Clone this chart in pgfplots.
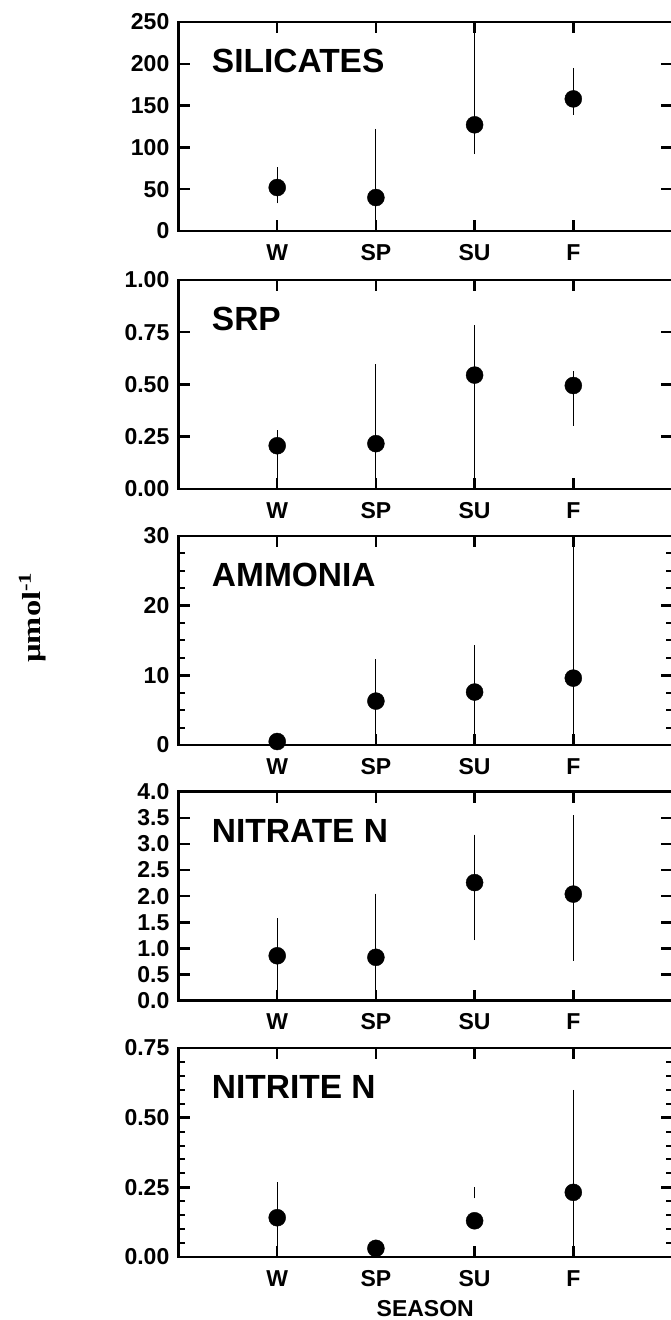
\documentclass[border=0pt]{standalone}
\usepackage{fontspec}
\setmainfont{Liberation Sans}
\newfontfamily\tnr{Liberation Serif}
\usepackage{graphicx}
\usepackage{pgfplots}
\pgfplotsset{compat=1.18}
\usepackage{pgfplotstable}

\pgfplotstableread{
x y ep em
1 52 24 19
2 40 82 40
3 127 130 35
4 158 37 19
}\silicates
\pgfplotstableread{
x y ep em
1 0.207 0.075 0.207
2 0.217 0.379 0.217
3 0.545 0.238 0.545
4 0.495 0.069 0.193
}\srp
\pgfplotstableread{
x y ep em
1 0.5 0 0
2 6.3 6.0 6.3
3 7.6 6.7 7.6
4 9.6 20.4 9.6
}\ammonia
\pgfplotstableread{
x y ep em
1 0.86 0.72 0.86
2 0.83 1.22 0.83
3 2.26 0.92 1.10
4 2.04 1.51 1.28
}\nitrate
\pgfplotstableread{
x y ep em
1 0.141 0.128 0.141
2 0.031 0 0
3 0.130 0 0
4 0.232 0.368 0.232
}\nitrite

\newcommand{\tickfont}{\fontsize{23}{27}\selectfont\bfseries}
\newcommand{\panelfont}{\fontsize{33.5}{40}\selectfont\bfseries}

\pgfplotsset{
  panel/.style={
    scale only axis, width=493.5pt, height=209pt,
    xmin=0, xmax=5, xtick={1,2,3,4}, xticklabels={W,SP,SU,F},
    axis line style={line width=2.5pt},
    major tick length=11pt, minor tick length=6pt,
    major tick style={line width=2.5pt, black},
    minor tick style={line width=2pt, black},
    tick align=inside,
    ticklabel style={font=\tickfont, inner sep=0pt},
    xticklabel style={yshift=-13pt},
    yticklabel style={xshift=-9pt},
    /pgf/number format/assume math mode=true,
    clip=true,
  },
  pts/.style={only marks, mark=*, mark size=8.5pt, draw=black, fill=black,
    mark options={draw=black, fill=black},
    error bars/.cd, y dir=both, y explicit, error mark=none,
    error bar style={line width=1pt, black}},
}

\begin{document}
\begin{tikzpicture}[x=1pt,y=1pt]
% Silicates
\begin{axis}[panel, at={(178.5pt,1089pt)}, anchor=south west,
  ymin=0, ymax=250, ytick={0,50,100,150,200,250}]
\addplot[pts] table[x=x, y=y, y error plus=ep, y error minus=em] {\silicates};
\node[anchor=base west, inner sep=0pt, font=\panelfont] at (rel axis cs:0.0673,0.7584) {SILICATES};
\end{axis}
% SRP
\begin{axis}[panel, at={(178.5pt,831pt)}, anchor=south west,
  ymin=0, ymax=1, ytick={0,0.25,0.5,0.75,1},
  yticklabel style={/pgf/number format/.cd, fixed, fixed zerofill, precision=2}]
\addplot[pts] table[x=x, y=y, y error plus=ep, y error minus=em] {\srp};
\node[anchor=base west, inner sep=0pt, font=\panelfont] at (rel axis cs:0.0673,0.7584) {SRP};
\end{axis}
% Ammonia
\begin{axis}[panel, at={(178.5pt,575pt)}, anchor=south west,
  ymin=0, ymax=30, ytick={0,10,20,30}, minor y tick num=3]
\addplot[pts] table[x=x, y=y, y error plus=ep, y error minus=em] {\ammonia};
\node[anchor=base west, inner sep=0pt, font=\panelfont] at (rel axis cs:0.0673,0.7584) {AMMONIA};
\end{axis}
% Nitrate
\begin{axis}[panel, at={(178.5pt,319.3pt)}, anchor=south west,
  ymin=0, ymax=4, ytick={0,0.5,...,4},
  yticklabel style={/pgf/number format/.cd, fixed, fixed zerofill, precision=1}]
\addplot[pts] table[x=x, y=y, y error plus=ep, y error minus=em] {\nitrate};
\node[anchor=base west, inner sep=0pt, font=\panelfont] at (rel axis cs:0.0673,0.7584) {NITRATE N};
\end{axis}
% Nitrite
\begin{axis}[panel, at={(178.5pt,63pt)}, anchor=south west,
  ymin=0, ymax=0.75, ytick={0,0.25,0.5,0.75}, minor y tick num=4,
  yticklabel style={/pgf/number format/.cd, fixed, fixed zerofill, precision=2},
  xlabel={SEASON},
  xlabel style={font=\tickfont, inner sep=0pt, at={(axis description cs:0.5,0)}, anchor=north, yshift=-43pt}]
\addplot[line width=1pt, black] coordinates {(3,0.21) (3,0.25)};
\addplot[pts] table[x=x, y=y, y error plus=ep, y error minus=em] {\nitrite};
\node[anchor=base west, inner sep=0pt, font=\panelfont] at (rel axis cs:0.0673,0.7584) {NITRITE N};
\end{axis}
% y label
\node[rotate=90, anchor=base west, inner sep=0pt] at (40,657)
  {\scalebox{1.25}[1]{\tnr\bfseries\fontsize{26}{30}\selectfont µmol\textsuperscript{-1}}};
\pgfresetboundingbox
\useasboundingbox (0,0) rectangle (670,1320);
\end{tikzpicture}
\end{document}
